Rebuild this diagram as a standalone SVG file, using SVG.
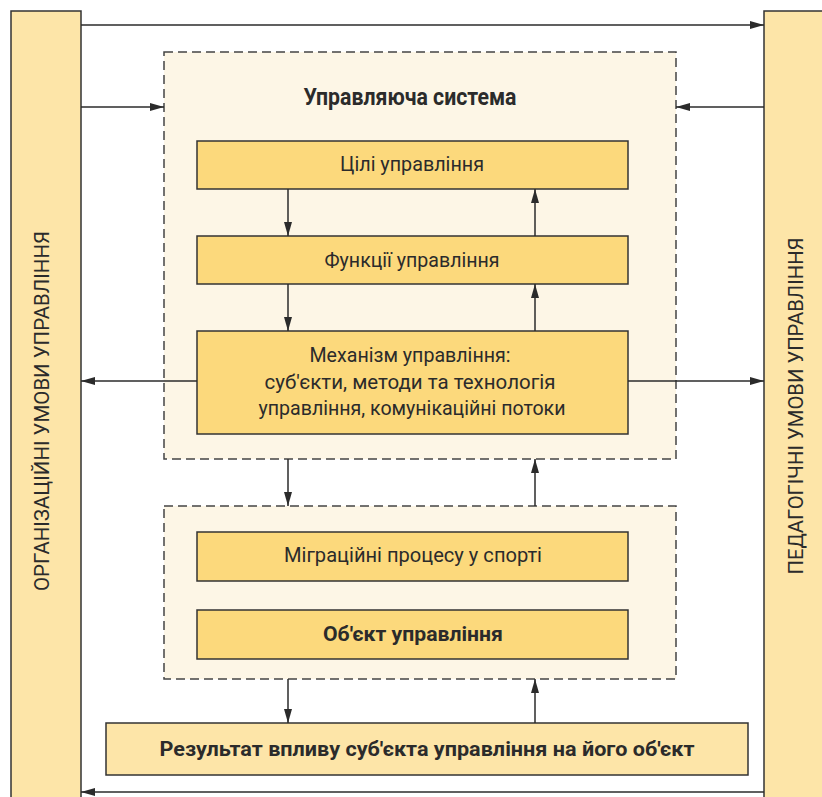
<svg xmlns="http://www.w3.org/2000/svg" width="822" height="797" viewBox="0 0 822 797">
<defs>
<marker id="ah" viewBox="0 0 14 8" refX="14" refY="4" markerWidth="14" markerHeight="8" markerUnits="userSpaceOnUse" orient="auto">
<path d="M0,0 L14,4 L0,8 Z" fill="#2b2b2b"/>
</marker>
</defs>
<style>
.bar{fill:#fde5a8;stroke:#333;stroke-width:1.5}
.box{fill:#fcd97c;stroke:#333;stroke-width:1.5}
.res{fill:#fde5a8;stroke:#333;stroke-width:1.5}
.dash{fill:#fdf6e6;stroke:#444;stroke-width:1.5;stroke-dasharray:9,5}
.ln{stroke:#2b2b2b;stroke-width:1.5;fill:none}
.t{font-family:Roboto,"Liberation Sans",sans-serif;fill:#2b2b2b;text-anchor:middle;font-size:21px}
.b{font-weight:bold}
.h{font-size:23px}
.v{font-size:19.5px}
</style>
<rect width="822" height="797" fill="#fff"/>
<g id="left-bar">
<rect class="bar" x="11" y="11" width="70" height="800"/>
<text class="t v" transform="translate(49,411) rotate(-90)" textLength="360" lengthAdjust="spacingAndGlyphs">ОРГАНІЗАЦІЙНІ УМОВИ УПРАВЛІННЯ</text>
</g>
<g id="right-bar">
<rect class="bar" x="764" y="11" width="70" height="800"/>
<text class="t v" transform="translate(803,406) rotate(-90)" textLength="337" lengthAdjust="spacingAndGlyphs">ПЕДАГОГІЧНІ УМОВИ УПРАВЛІННЯ</text>
</g>
<g id="control-system">
<rect class="dash" x="164" y="52" width="512" height="407"/>
<text class="t b h" x="410" y="105" textLength="213" lengthAdjust="spacingAndGlyphs">Управляюча система</text>
</g>
<g id="goals">
<rect class="box" x="197" y="141" width="431" height="48"/>
<text class="t" x="412" y="171" textLength="144" lengthAdjust="spacingAndGlyphs">Цілі управління</text>
</g>
<g id="functions">
<rect class="box" x="197" y="236" width="431" height="48"/>
<text class="t" x="412" y="267" textLength="175" lengthAdjust="spacingAndGlyphs">Функції управління</text>
</g>
<g id="mechanism">
<rect class="box" x="197" y="331" width="431" height="103"/>
<text class="t" x="410" y="362" textLength="201" lengthAdjust="spacingAndGlyphs">Механізм управління:</text>
<text class="t" x="410" y="389" textLength="291" lengthAdjust="spacingAndGlyphs">суб'єкти, методи та технологія</text>
<text class="t" x="412" y="415" textLength="307" lengthAdjust="spacingAndGlyphs">управління, комунікаційні потоки</text>
</g>
<g id="object-system">
<rect class="dash" x="164" y="506" width="512" height="173"/>
</g>
<g id="migration">
<rect class="box" x="197" y="532" width="431" height="49"/>
<text class="t" x="413" y="562" textLength="258" lengthAdjust="spacingAndGlyphs">Міграційні процесу у спорті</text>
</g>
<g id="object">
<rect class="box" x="197" y="610" width="431" height="49"/>
<text class="t b" x="413" y="641" textLength="180" lengthAdjust="spacingAndGlyphs">Об'єкт управління</text>
</g>
<g id="result">
<rect class="res" x="106" y="723" width="642" height="52"/>
<text class="t b" x="427" y="756" textLength="535" lengthAdjust="spacingAndGlyphs">Результат впливу суб'єкта управління на його об'єкт</text>
</g>
<g id="connectors">
<line class="ln" x1="81" y1="25" x2="764" y2="25" marker-end="url(#ah)"/>
<line class="ln" x1="81" y1="107" x2="164" y2="107" marker-end="url(#ah)"/>
<line class="ln" x1="764" y1="107" x2="676" y2="107" marker-end="url(#ah)"/>
<line class="ln" x1="288" y1="189" x2="288" y2="236" marker-end="url(#ah)"/>
<line class="ln" x1="535" y1="236" x2="535" y2="189" marker-end="url(#ah)"/>
<line class="ln" x1="288" y1="284" x2="288" y2="331" marker-end="url(#ah)"/>
<line class="ln" x1="535" y1="331" x2="535" y2="284" marker-end="url(#ah)"/>
<line class="ln" x1="197" y1="381" x2="81" y2="381" marker-end="url(#ah)"/>
<line class="ln" x1="628" y1="381" x2="764" y2="381" marker-end="url(#ah)"/>
<line class="ln" x1="288" y1="459" x2="288" y2="506" marker-end="url(#ah)"/>
<line class="ln" x1="535" y1="506" x2="535" y2="459" marker-end="url(#ah)"/>
<line class="ln" x1="288" y1="679" x2="288" y2="723" marker-end="url(#ah)"/>
<line class="ln" x1="535" y1="723" x2="535" y2="679" marker-end="url(#ah)"/>
<line class="ln" x1="764" y1="792" x2="81" y2="792" marker-end="url(#ah)"/>
</g>
</svg>
